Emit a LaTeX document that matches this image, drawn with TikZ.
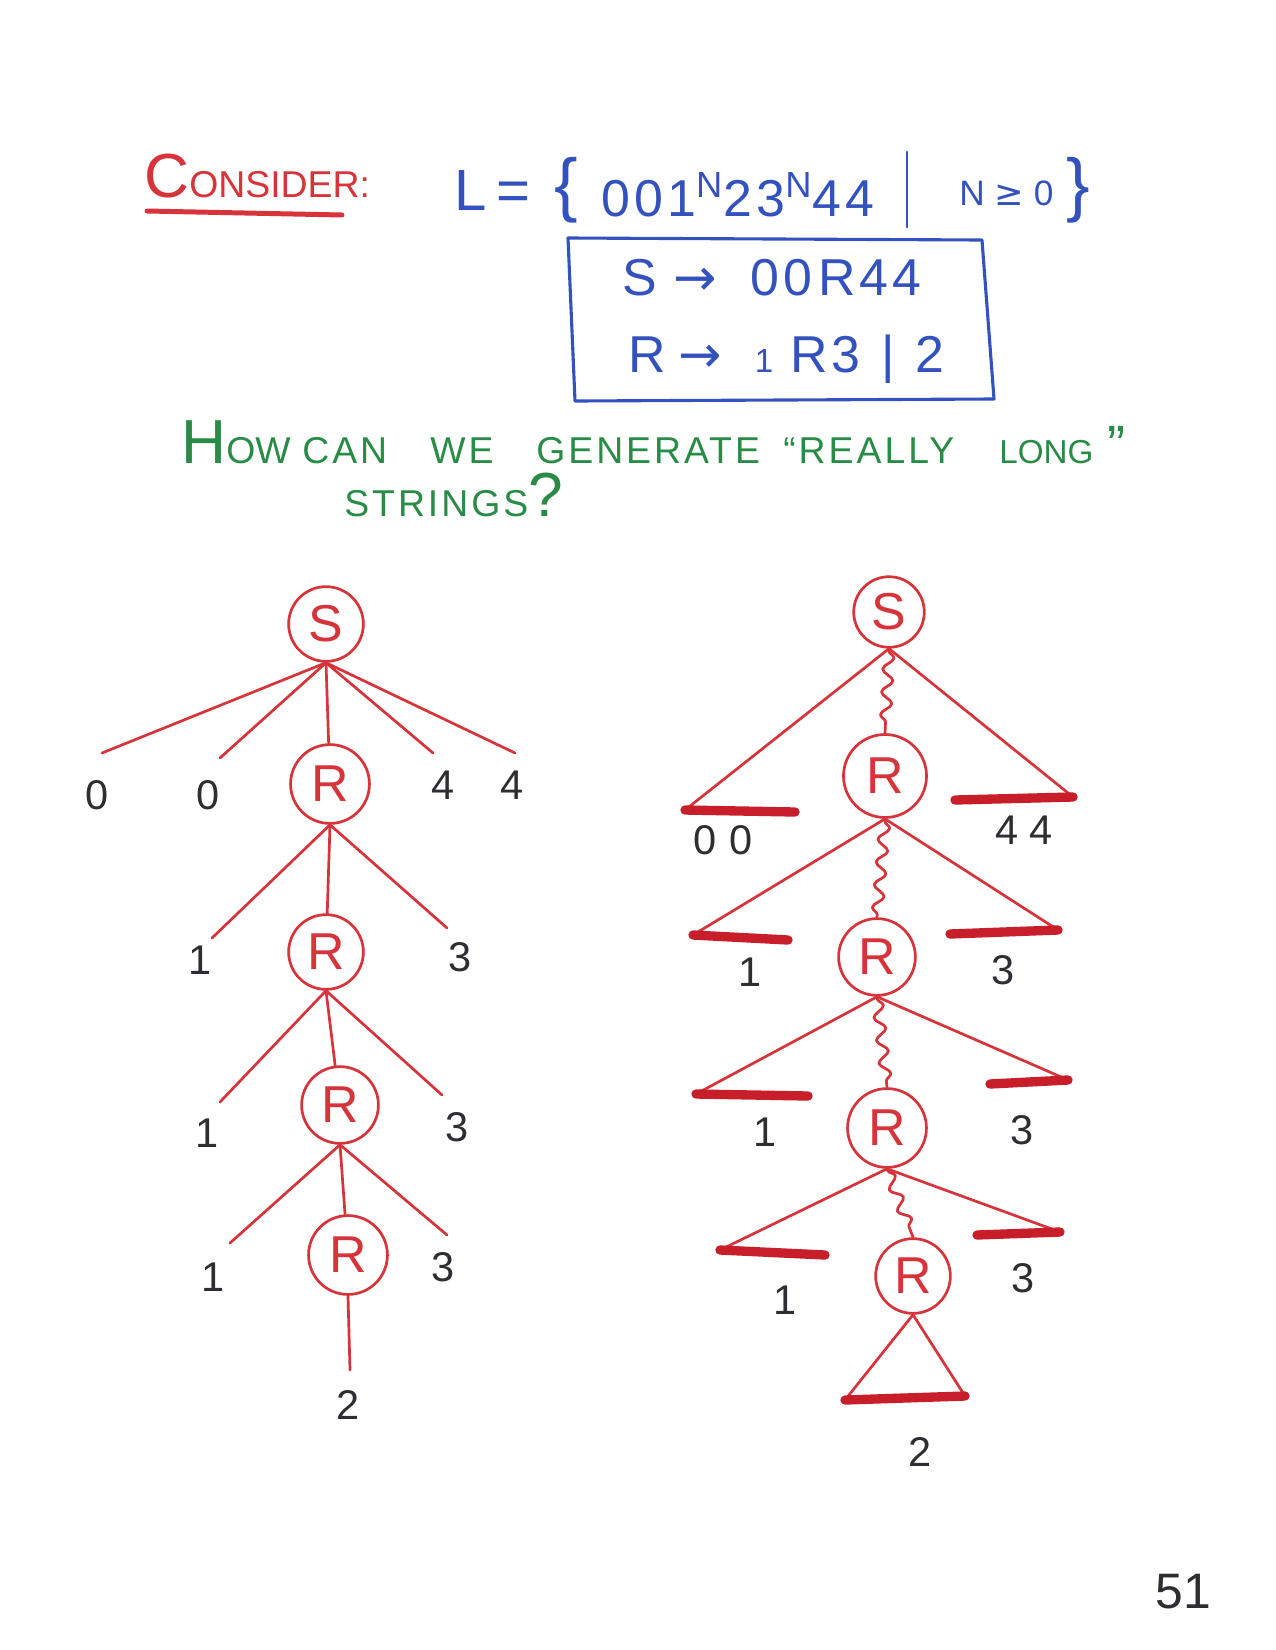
\documentclass[tikz,border=0pt]{standalone}
\usepackage{fontspec}
\setmainfont{Liberation Sans}
\newfontfamily\symf{DejaVu Sans}
\usetikzlibrary{decorations.pathmorphing}
\definecolor{markred}{RGB}{214,52,58}
\definecolor{barred}{RGB}{200,30,42}
\definecolor{markblue}{RGB}{52,82,190}
\definecolor{markgreen}{RGB}{40,140,70}
\definecolor{inkgray}{RGB}{45,45,50}
\newcommand\hsc[2]{{\fontsize{30}{30}\selectfont #1}{\fontsize{18}{18}\selectfont #2}}
\tikzset{
  nt/.style={circle,draw=markred,line width=1.3pt,minimum size=36pt,inner sep=0pt,
    text=markred,font=\fontsize{25}{25}\selectfont},
  leaf/.style={text=inkgray,font=\fontsize{20}{20}\selectfont},
  edge/.style={draw=markred,line width=1.3pt},
  wavy/.style={edge,decorate,decoration={snake,amplitude=2.6pt,segment length=11pt,
    pre length=1pt,post length=1pt}},
  bar/.style={draw=barred,line width=4.5pt,line cap=round},
  qtext/.style={text=markgreen,font=\fontsize{18}{18}\selectfont\addfontfeatures{LetterSpace=8}},
  bluetext/.style={text=markblue,font=\fontsize{25}{25}\selectfont\addfontfeatures{LetterSpace=8}}
}
\begin{document}
\begin{tikzpicture}[x=0.16933mm,y=-0.16933mm,line join=round,line cap=round]
\useasboundingbox[fill=white] (0,0) rectangle (1275,1650);
%
\node[anchor=base west,text=markred] (cons) at (137,197) {\hsc{C}{ONSIDER:}};
\draw[markred,line width=2.4pt] (147,211) -- (342,215);
%
\node[anchor=base west,text=markblue,font=\fontsize{28}{28}\selectfont] (Ldef) at (447,210) {L\,=};
\node[text=markblue,font=\fontsize{34}{34}\selectfont] (lbr) at (566,190) {\{};
\node[anchor=base west,bluetext] (word) at (594,216) {001\textsuperscript{N}23\textsuperscript{N}44};
\draw[markblue,line width=1.4pt] (907,152) -- (907,227);
\node[anchor=base west,text=markblue,font=\fontsize{17}{17}\selectfont] (cond) at (952,205) {N {\symf ≥} 0};
\node[text=markblue,font=\fontsize{34}{34}\selectfont] (rbr) at (1078,190) {\}};
%
\draw[markblue,line width=1.5pt] (568,238) -- (982,240) -- (994,399) -- (575,401) -- cycle;
\node[anchor=base west,bluetext] (rule1) at (615,295) {S\hspace{8pt}{\symf →}\hspace{16pt}00\hspace{3pt}R44};
\node[anchor=base west,bluetext] (rule2) at (621,372) {R\hspace{6pt}{\symf →}\hspace{16pt}{\fontsize{16}{16}\selectfont 1}\hspace{8pt}R3\hspace{10pt}|\hspace{10pt}2};
%
\node[anchor=base west,text=markgreen] (q0) at (174,463) {\hsc{H}{OW}};
\foreach \w/\x [count=\i] in {CAN/295,WE/423,GENERATE/529,``REALLY/776}
  \node[anchor=base west,qtext] (qw\i) at (\x,463) {\w};
\node[anchor=base west,text=markgreen,font=\fontsize{16}{16}\selectfont] (qlong) at (992,463) {LONG};
\node[anchor=base west,text=markgreen,font=\fontsize{26}{26}\selectfont] (qend) at (1100,463) {''};
\node[anchor=base west,qtext] (q2) at (337,516) {STRINGS{\fontsize{30}{30}\selectfont ?}};
%
% left tree
\node[nt] (lS) at (326,624) {S};
\node[nt,minimum size=38pt] (lR1) at (330,784) {R};
\node[nt] (lR2) at (326,952) {R};
\node[nt,minimum size=37pt] (lR3) at (340,1105) {R};
\node[nt,minimum size=38pt] (lR4) at (348,1255) {R};
\path
(102,753) coordinate (la)
(220,758) coordinate (lb)
(433,753) coordinate (lc)
(515,753) coordinate (ld)
(212,938) coordinate (le)
(447,928) coordinate (lf)
(220,1102) coordinate (lg)
(442,1095) coordinate (lh)
(230,1243) coordinate (li)
(447,1235) coordinate (lj)
(350,1370) coordinate (lk)
;
\foreach \a/\b in {lS/la,lS/lb,lS/lR1,lS/lc,lS/ld,lR1/le,lR1/lR2,lR1/lf,
  lR2/lg,lR2/lR3,lR2/lh,lR3/li,lR3/lR4,lR3/lj,lR4/lk}
  \draw[edge] (\a.south) -- (\b);
\foreach \c/\t/\x/\y in {a/0/97/795,b/0/208/795,c/4/443/785,d/4/512/785,
  e/1/200/960,f/3/460/957,g/1/207/1133,h/3/457/1127,i/1/213/1277,j/3/443/1267,k/2/348/1405}
  \node[leaf] (lt\c) at (\x,\y) {\t};
%
% right tree
\node[nt,minimum size=34pt] (rS) at (889,612) {S};
\node[nt,minimum size=40pt] (rR1) at (885,776) {R};
\node[nt,minimum size=37pt] (rR2) at (877,957) {R};
\node[nt,minimum size=38pt] (rR3) at (887,1128) {R};
\node[nt,minimum size=36pt] (rR4) at (913,1276) {R};
\path
(685,810) coordinate (ra1) (795,812) coordinate (ra2)
(955,800) coordinate (rb1) (1073,797) coordinate (rb2)
(693,935) coordinate (rc1) (788,940) coordinate (rc2)
(950,934) coordinate (rd1) (1058,930) coordinate (rd2)
(696,1094) coordinate (re1) (808,1096) coordinate (re2)
(990,1084) coordinate (rf1) (1068,1080) coordinate (rf2)
(720,1250) coordinate (rg1) (825,1255) coordinate (rg2)
(977,1235) coordinate (rh1) (1060,1232) coordinate (rh2)
(845,1400) coordinate (rk1) (965,1396) coordinate (rk2)
;
\foreach \p/\l/\r in {rS/ra/rb,rR1/rc/rd,rR2/re/rf,rR3/rg/rh,rR4/rk/rk}{
  \draw[edge] (\p.south) -- (\l1);
  \draw[edge] (\p.south) -- (\r2);
}
\foreach \l in {ra,rb,rc,rd,re,rf,rg,rh,rk}
  \draw[bar] (\l1) -- (\l2);
\foreach \a/\b in {rS/rR1,rR1/rR2,rR2/rR3,rR3/rR4}
  \draw[wavy] (\a.south) -- (\b.north);
\foreach \c/\t/\x/\y in {a/0\hspace{6pt}0/723/840,b/4\hspace{5pt}4/1024/830,
  c/1/750/972,d/3/1003/970,e/1/765/1132,f/3/1022/1130,g/1/785/1300,h/3/1023/1278,k/2/920/1452}
  \node[leaf] (rt\c) at (\x,\y) {\t};
%
\node[text=inkgray,font=\fontsize{24}{24}\selectfont] (pg) at (1183,1592) {51};
\end{tikzpicture}
\end{document}
